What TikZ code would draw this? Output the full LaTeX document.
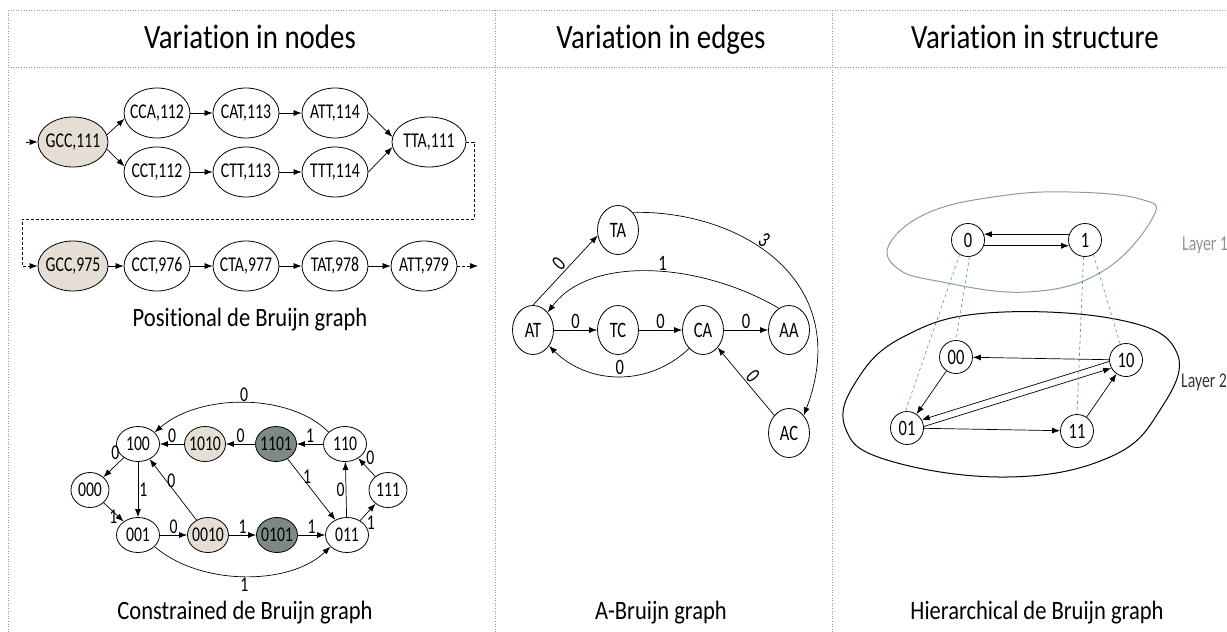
\documentclass[tikz,border=0pt]{standalone}
\usepackage{fontspec}
\setmainfont{Carlito}[FakeStretch=0.85, Ligatures=NoCommon]
\newfontfamily\nodefont{Carlito}[FakeStretch=0.75, Ligatures=NoCommon]
\usetikzlibrary{arrows.meta,shapes.geometric}
\definecolor{beige}{RGB}{228,222,212}
\definecolor{darkgg}{RGB}{125,138,131}
\definecolor{layerone}{RGB}{140,158,150}
\definecolor{tealdash}{RGB}{72,160,140}
\definecolor{framegray}{RGB}{150,150,150}
\definecolor{layertxt}{RGB}{140,148,144}
\newcommand{\fsz}[1]{\fontsize{#1}{#1}\selectfont}
\newcommand{\nt}[1]{\makebox[0pt]{#1}}
\tikzset{
  frame/.style={draw=framegray, dotted, line width=0.6pt},
  pnode/.style={ellipse, draw, line width=0.8pt, minimum width=66pt, minimum height=50pt, inner sep=0pt, font=\nodefont\fsz{21}},
  cnode/.style={ellipse, draw, line width=0.8pt, minimum width=41pt, minimum height=35pt, inner sep=0pt, font=\nodefont\fsz{21}},
  mnode/.style={ellipse, draw, line width=0.8pt, minimum width=41pt, minimum height=49pt, inner sep=0pt, font=\nodefont\fsz{22}},
  hnode/.style={circle, draw, line width=0.8pt, minimum size=33pt, inner sep=0pt, font=\nodefont\fsz{22}},
  arr/.style={-{Latex[length=8pt,width=6pt]}, line width=0.7pt},
  dsh/.style={dash pattern=on 3pt off 2pt},
  lab/.style={font=\nodefont\fsz{21}, inner sep=1pt},
  mlab/.style={font=\nodefont\fsz{22}, inner sep=1.5pt},
  title/.style={font=\fsz{34}, anchor=base, inner sep=0pt},
  caption/.style={font=\fsz{26.5}, anchor=base, inner sep=0pt},
  tline/.style={draw=tealdash, dashed, line width=0.6pt},
}
\begin{document}
\begin{tikzpicture}[x=1pt,y=-1pt]
\useasboundingbox (0,0) rectangle (1227,632);
% frame
\draw[frame] (8,10) -- (1227,10);
\draw[frame] (8,67) -- (1227,67);
\draw[frame] (8,10) -- (8,632);
\draw[frame] (495,10) -- (495,632);
\draw[frame] (832,10) -- (832,632);
% titles and captions
\node[title] (t1) at (250,48) {Variation in nodes};
\node[title] (t2) at (661,48) {Variation in edges};
\node[title] (t3) at (1035,48) {Variation in structure};
\node[caption] (c1) at (250,326) {Positional de Bruijn graph};
\node[caption] (c2) at (245,619) {Constrained de Bruijn graph};
\node[caption] (c3) at (661,619) {A-Bruijn graph};
\node[caption] (c4) at (1037,619) {Hierarchical de Bruijn graph};

% ---------- positional de Bruijn graph
\node[pnode, fill=beige, minimum width=70pt] (g1) at (73,142) {\nt{GCC,111}};
\node[pnode] (cca) at (157,113) {\nt{CCA,112}};
\node[pnode] (cat) at (246,113) {\nt{CAT,113}};
\node[pnode] (att) at (335,113) {\nt{ATT,114}};
\node[pnode] (cct) at (157,172) {\nt{CCT,112}};
\node[pnode] (ctt) at (246,172) {\nt{CTT,113}};
\node[pnode] (ttt) at (335,172) {\nt{TTT,114}};
\node[pnode, minimum width=74pt] (tta) at (429,142) {\nt{TTA,111}};
\node[pnode, fill=beige, minimum width=70pt] (g2) at (73,266) {\nt{GCC,975}};
\node[pnode] (c76) at (157,266) {\nt{CCT,976}};
\node[pnode] (c77) at (246,266) {\nt{CTA,977}};
\node[pnode] (t78) at (335,266) {\nt{TAT,978}};
\node[pnode] (a79) at (424,266) {\nt{ATT,979}};
\draw[arr] (g1.12) -- (cca.190);
\draw[arr] (g1.-12) -- (cct.170);
\draw[arr] (cca) -- (cat);
\draw[arr] (cat) -- (att);
\draw[arr] (cct) -- (ctt);
\draw[arr] (ctt) -- (ttt);
\draw[arr] (att.east) -- (tta.172);
\draw[arr] (ttt.east) -- (tta.188);
\coordinate (in1) at (26,142);
\draw[arr,dsh] (in1) -- (g1.west);
\coordinate (dr) at (474,219);
\coordinate (dl) at (22,219);
\draw[arr,dsh] (tta.east) -| (dr) -- (dl) |- (g2.west);
\draw[arr] (g2) -- (c76);
\draw[arr] (c76) -- (c77);
\draw[arr] (c77) -- (t78);
\draw[arr] (t78) -- (a79);
\coordinate (out2) at (478,266);
\draw[arr,dsh] (a79.east) -- (out2);

% ---------- constrained de Bruijn graph
\node[cnode, minimum width=43pt] (n100) at (138,444) {\nt{100}};
\node[cnode, fill=beige] (n1010) at (205,444) {\nt{1010}};
\node[cnode, fill=darkgg] (n1101) at (276,444) {\nt{1101}};
\node[cnode, minimum width=43pt] (n110) at (345,444) {\nt{110}};
\node[cnode, minimum width=38pt] (n000) at (90,490) {\nt{000}};
\node[cnode, minimum width=38pt] (n111) at (388,490) {\nt{111}};
\node[cnode, minimum width=43pt] (n001) at (138,535) {\nt{001}};
\node[cnode, fill=beige] (n0010) at (208,535) {\nt{0010}};
\node[cnode, fill=darkgg] (n0101) at (277,535) {\nt{0101}};
\node[cnode, minimum width=43pt] (n011) at (347,535) {\nt{011}};
\draw[arr] (n110.144) .. controls (290,393) and (200,393) .. node[lab, above] {0} (n100.35);
\draw[arr] (n1010) -- node[lab, above] {0} (n100);
\draw[arr] (n1101) -- node[lab, above] {0} (n1010);
\draw[arr] (n110) -- node[lab, above] {1} (n1101);
\draw[arr] (n100) -- node[lab, above left, pos=0.15] {0} (n000);
\draw[arr] (n100) -- node[lab, right] {1} (n001);
\draw[arr] (n000) -- node[lab, left, pos=0.75] {1} (n001);
\draw[arr] (n0010) -- node[lab, right, pos=0.65] {0} (n100);
\draw[arr] (n1101) -- node[lab, right, pos=0.3] {1} (n011);
\draw[arr] (n011) -- node[lab, left] {0} (n110);
\draw[arr] (n111) -- node[lab, above right, pos=0.6] {0} (n110);
\draw[arr] (n011) -- node[lab, below right, pos=0.35] {1} (n111);
\draw[arr] (n001) -- node[lab, above] {0} (n0010);
\draw[arr] (n0010) -- node[lab, above] {1} (n0101);
\draw[arr] (n0101) -- node[lab, above] {1} (n011);
\draw[arr] (n001.-35) .. controls (200,586) and (290,586) .. node[lab, below] {1} (n011.215);

% ---------- A-Bruijn graph
\node[mnode] (TA) at (618,230) {TA};
\node[mnode] (AT) at (533,330) {AT};
\node[mnode] (TC) at (618,330) {TC};
\node[mnode] (CA) at (703,330) {CA};
\node[mnode] (AA) at (789,330) {AA};
\node[mnode] (AC) at (789,433) {AC};
\draw[arr] (AT.north) -- node[mlab, sloped, above] {0} (TA.195);
\draw[arr] (TA.50) .. controls (740,210) and (855,280) .. node[mlab, sloped, above, pos=0.42] {3} (AC.50);
\draw[arr] (AA.115) .. controls (700,262) and (590,255) .. node[mlab, above, pos=0.45] {1} (AT.50);
\draw[arr] (AT) -- node[mlab, above] {0} (TC);
\draw[arr] (TC) -- node[mlab, above] {0} (CA);
\draw[arr] (CA) -- node[mlab, above] {0} (AA);
\draw[arr] (CA.233) .. controls (650,386) and (590,386) .. node[mlab, above] {0} (AT.-45);
\draw[arr] (AC) -- node[mlab, sloped, above] {0} (CA);

% ---------- hierarchical de Bruijn graph
\draw[draw=layerone, line width=1pt] plot[smooth cycle, tension=0.7] coordinates {(890,243) (930,212) (1000,196) (1070,192) (1140,199) (1153,217) (1103,271) (1027,292) (937,281) (897,268)};
\draw[line width=1pt] plot[smooth cycle, tension=0.7] coordinates {(903,337) (987,313) (1120,320) (1177,353) (1160,410) (1110,457) (1007,477) (887,460) (845,427) (857,380)};
\node[hnode] (h0) at (968,240) {0};
\node[hnode] (h1) at (1085,240) {1};
\node[hnode] (h00) at (956,357) {00};
\node[hnode] (h10) at (1126,360) {10};
\node[hnode] (h01) at (907,428) {01};
\node[hnode] (h11) at (1077,431) {11};
\draw[arr] (h1.160) -- (h0.20);
\draw[arr] (h0.-20) -- (h1.200);
\draw[arr] (h10) -- (h00);
\draw[arr] (h00) -- (h01);
\draw[arr] (h10.185) -- (h01.29);
\draw[arr] (h01.5) -- (h10.209);
\draw[arr] (h01) -- (h11);
\draw[arr] (h11) -- (h10);
\draw[tline] (h0.240) -- (h01.95);
\draw[tline] (h0.275) -- (h00.north);
\draw[tline] (h1.265) -- (h11.north);
\draw[tline] (h1.300) -- (h10.110);
\node[font=\nodefont\fsz{21}, text=layertxt, anchor=west, inner sep=0pt] (l1) at (1182,245) {Layer 1};
\node[font=\nodefont\fsz{21}, text=black!80, anchor=west, inner sep=0pt] (l2) at (1181,382) {Layer 2};
\end{tikzpicture}
\end{document}
